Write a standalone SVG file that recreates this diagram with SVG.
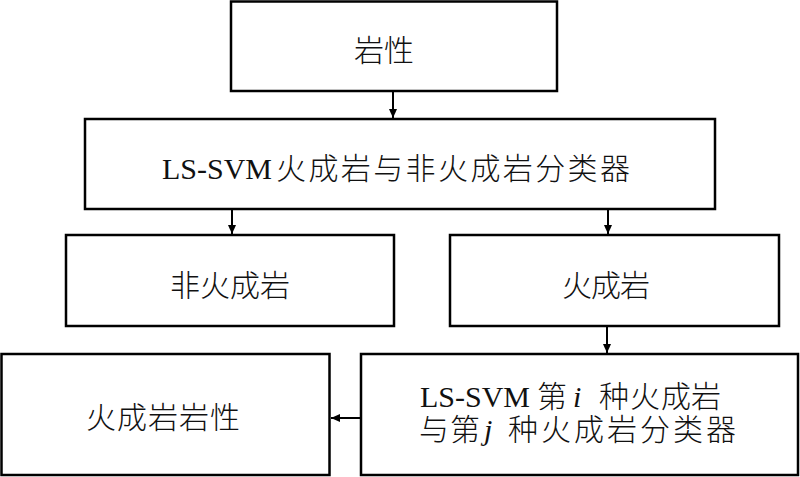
<svg xmlns="http://www.w3.org/2000/svg" width="800" height="477" viewBox="0 0 800 477">
<style>
.box{fill:#fff;stroke:#000;stroke-width:2.5}
.t{font-family:"Liberation Serif","Noto Sans CJK SC",serif;font-size:30px;fill:#111}
.c{font-family:"Noto Sans CJK SC","Liberation Serif",sans-serif;font-weight:300}
.i{font-family:"Liberation Serif",serif;font-style:italic}
.ln{stroke:#000;stroke-width:2;fill:none}
</style>
<defs>
<marker id="ah" markerWidth="10" markerHeight="10" refX="9" refY="5" orient="auto" markerUnits="userSpaceOnUse">
<path d="M0,1 L9,5 L0,9 Z" fill="#000"/>
</marker>
</defs>
<rect width="800" height="477" fill="#fff"/>
<g id="connectors">
<line class="ln" x1="393" y1="92" x2="393" y2="118" marker-end="url(#ah)"/>
<line class="ln" x1="232" y1="210" x2="232" y2="234" marker-end="url(#ah)"/>
<line class="ln" x1="608" y1="210" x2="608" y2="234" marker-end="url(#ah)"/>
<line class="ln" x1="607" y1="327" x2="607" y2="353" marker-end="url(#ah)"/>
<line class="ln" x1="360" y1="418" x2="331" y2="418" marker-end="url(#ah)"/>
</g>
<g id="n1">
<rect class="box" x="231" y="1.5" width="326" height="89.5"/>
<text class="t c" x="354 384" y="61">岩性</text>
</g>
<g id="n2">
<rect class="box" x="85" y="119" width="630" height="90"/>
<text class="t" y="179"><tspan x="162">LS-SVM</tspan><tspan class="c" x="276 308.4 340.8 373.2 405.6 438 470.4 502.8 535.2 567.6 600">火成岩与非火成岩分类器</tspan></text>
</g>
<g id="n3">
<rect class="box" x="66" y="235" width="328" height="91"/>
<text class="t c" x="170 200 230 260" y="296">非火成岩</text>
</g>
<g id="n4">
<rect class="box" x="450" y="235" width="329" height="91"/>
<text class="t c" x="562 591 620" y="296">火成岩</text>
</g>
<g id="n5">
<rect class="box" x="361" y="354" width="437" height="121"/>
<text class="t" y="407"><tspan x="420">LS-SVM</tspan><tspan class="c" x="537">第</tspan><tspan class="i" x="573">i</tspan><tspan class="c" x="599 630 661 691">种火成岩</tspan><tspan class="c" x="419 450" y="440">与第</tspan><tspan class="i" x="484" y="440">j</tspan><tspan class="c" x="508 541 574 607 640 673 706" y="440">种火成岩分类器</tspan></text>
</g>
<g id="n6">
<rect class="box" x="1.5" y="354" width="328" height="121"/>
<text class="t c" x="86 117 148 179 210" y="428">火成岩岩性</text>
</g>
</svg>
